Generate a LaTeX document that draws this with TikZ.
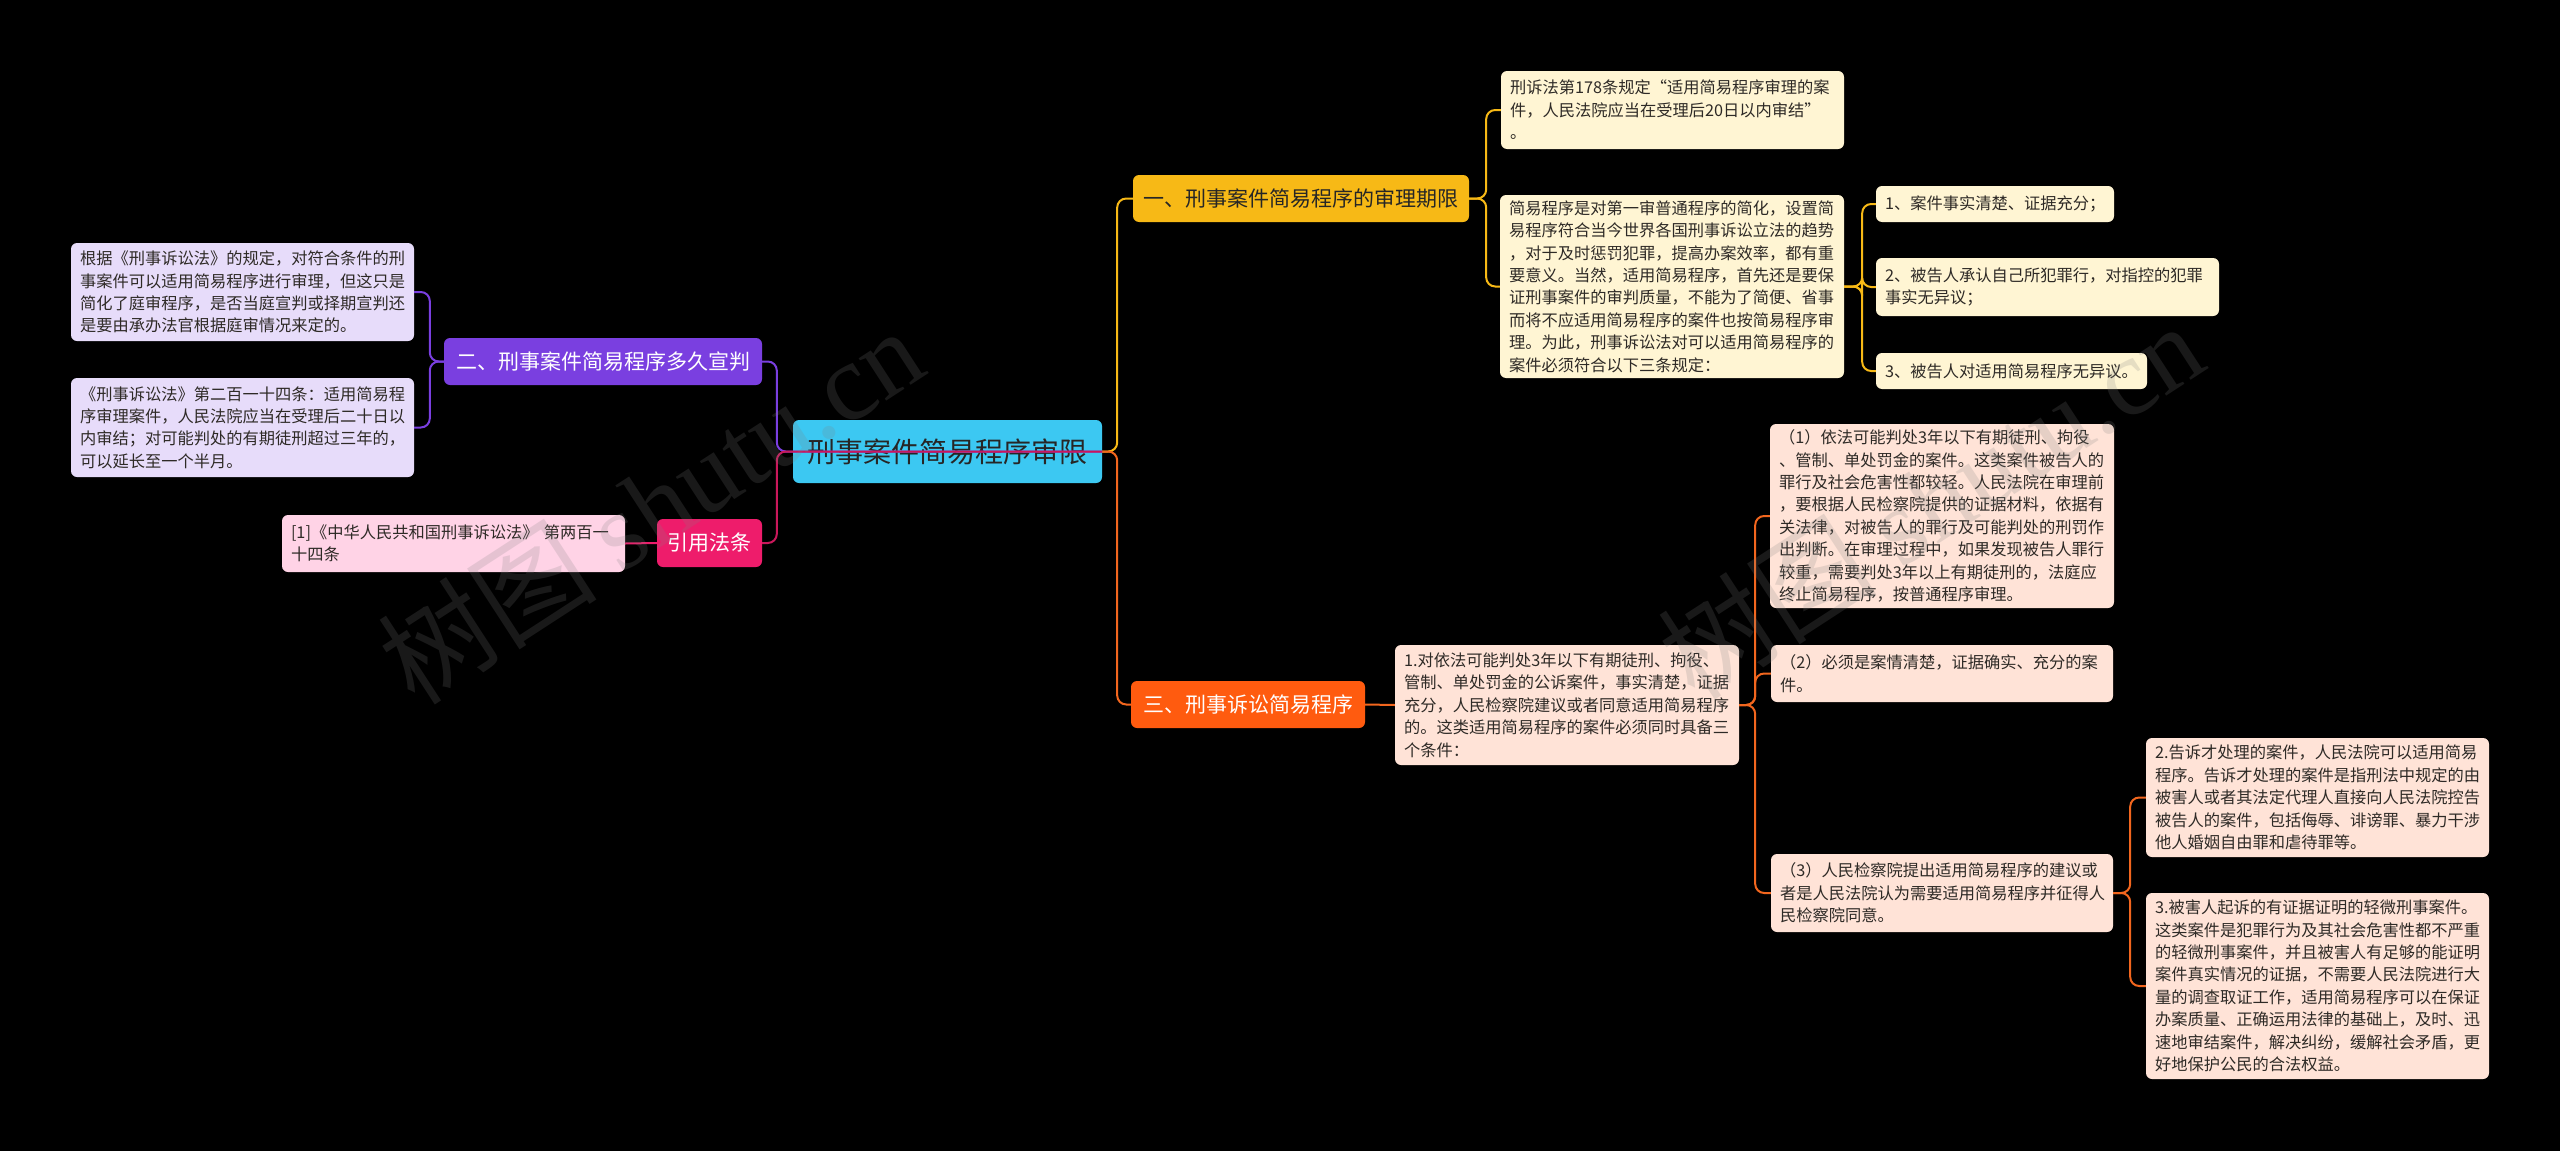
\documentclass[tikz,border=0pt]{standalone}
\usepackage{fontspec}
\setmainfont{Noto Sans CJK SC}
\newfontfamily\wmlatin{Liberation Serif}
\definecolor{bgc}{HTML}{000000}
\definecolor{rootc}{HTML}{3CC8F2}
\definecolor{yelc}{HTML}{F7B916}
\definecolor{purc}{HTML}{7A3FE0}
\definecolor{orac}{HTML}{FF5B0F}
\definecolor{pinc}{HTML}{EE1C6B}
\definecolor{yleaf}{HTML}{FFF5D3}
\definecolor{pleaf}{HTML}{E7DCFA}
\definecolor{oleaf}{HTML}{FFE3D7}
\definecolor{kleaf}{HTML}{FFD3E6}
\definecolor{ltext}{HTML}{2E2A26}
\definecolor{oline}{HTML}{F2661E}
\newcommand\leaffnt{\fontsize{16.25pt}{22.4pt}\selectfont}
\newcommand\brfnt{\fontsize{21pt}{26pt}\selectfont}
\newcommand\rootfnt{\fontsize{28pt}{34pt}\selectfont}
\tikzset{
  box/.style={rectangle, rounded corners=6pt, inner sep=0pt, align=center},
  rootbox/.style={box, fill=rootc, text=black!85, font=\rootfnt},
  brbox/.style={box, font=\brfnt},
  leafbox/.style={rectangle, rounded corners=6pt, inner xsep=9pt, inner ysep=2pt, align=left, font=\leaffnt, text=ltext},
  conn/.style={line width=2pt, rounded corners=9pt},
  wm/.style={font=\fontsize{110pt}{120pt}\selectfont, text=gray, text opacity=0.2}
}
\begin{document}
\begin{tikzpicture}[x=1pt,y=-1pt]
\useasboundingbox (0,0) rectangle (2560,1151);
\fill[bgc] (0,0) rectangle (2560,1151);

% nodes
\node[rootbox, minimum width=309pt, minimum height=63pt] (root) at (947.5,451.5) {刑事案件简易程序审限};
\node[brbox, fill=yelc, text=black!85, minimum width=336pt, minimum height=47pt] (B1) at (1301,198.5) {一、刑事案件简易程序的审理期限};
\node[brbox, fill=purc, text=white, minimum width=318pt, minimum height=47pt] (B2) at (603,361.5) {二、刑事案件简易程序多久宣判};
\node[brbox, fill=orac, text=white, minimum width=234pt, minimum height=47pt] (B3) at (1248,704.5) {三、刑事诉讼简易程序};
\node[brbox, fill=pinc, text=white, minimum width=105pt, minimum height=48pt] (B4) at (709.5,543) {引用法条};

\node[leafbox, fill=yleaf, text width=325pt, minimum height=78pt] (L1a) at (1672.5,110) {刑诉法第178条规定“适用简易程序审理的案\\件，人民法院应当在受理后20日以内审结”\\。};
\node[leafbox, fill=yleaf, text width=326pt, minimum height=183pt] (L1b) at (1672,286.5) {简易程序是对第一审普通程序的简化，设置简\\易程序符合当今世界各国刑事诉讼立法的趋势\\，对于及时惩罚犯罪，提高办案效率，都有重\\要意义。当然，适用简易程序，首先还是要保\\证刑事案件的审判质量，不能为了简便、省事\\而将不应适用简易程序的案件也按简易程序审\\理。为此，刑事诉讼法对可以适用简易程序的\\案件必须符合以下三条规定：};
\node[leafbox, fill=yleaf, text width=220pt, minimum height=36pt] (L1b1) at (1995,204) {1、案件事实清楚、证据充分；};
\node[leafbox, fill=yleaf, text width=325pt, minimum height=58pt] (L1b2) at (2047.5,287) {2、被告人承认自己所犯罪行，对指控的犯罪\\事实无异议；};
\node[leafbox, fill=yleaf, text width=253pt, minimum height=36pt] (L1b3) at (2011.5,371) {3、被告人对适用简易程序无异议。};

\node[leafbox, fill=pleaf, text width=325pt, minimum height=98pt] (L2a) at (242.5,292) {根据《刑事诉讼法》的规定，对符合条件的刑\\事案件可以适用简易程序进行审理，但这只是\\简化了庭审程序，是否当庭宣判或择期宣判还\\是要由承办法官根据庭审情况来定的。};
\node[leafbox, fill=pleaf, text width=325pt, minimum height=99pt] (L2b) at (242.5,427.5) {《刑事诉讼法》第二百一十四条：适用简易程\\序审理案件，人民法院应当在受理后二十日以\\内审结；对可能判处的有期徒刑超过三年的，\\可以延长至一个半月。};

\node[leafbox, fill=kleaf, text width=325pt, minimum height=57pt] (L4a) at (453.5,543.5) {[1]《中华人民共和国刑事诉讼法》 第两百一\\十四条};

\node[leafbox, fill=oleaf, text width=326pt, minimum height=120pt] (L3a) at (1567,705) {1.对依法可能判处3年以下有期徒刑、拘役、\\管制、单处罚金的公诉案件，事实清楚，证据\\充分，人民检察院建议或者同意适用简易程序\\的。这类适用简易程序的案件必须同时具备三\\个条件：};
\node[leafbox, fill=oleaf, text width=326pt, minimum height=184pt] (L3a1) at (1942,516) {（1）依法可能判处3年以下有期徒刑、拘役\\、管制、单处罚金的案件。这类案件被告人的\\罪行及社会危害性都较轻。人民法院在审理前\\，要根据人民检察院提供的证据材料，依据有\\关法律，对被告人的罪行及可能判处的刑罚作\\出判断。在审理过程中，如果发现被告人罪行\\较重，需要判处3年以上有期徒刑的，法庭应\\终止简易程序，按普通程序审理。};
\node[leafbox, fill=oleaf, text width=324pt, minimum height=57pt] (L3a2) at (1942,673.5) {（2）必须是案情清楚，证据确实、充分的案\\件。};
\node[leafbox, fill=oleaf, text width=324pt, minimum height=78pt] (L3a3) at (1942,893) {（3）人民检察院提出适用简易程序的建议或\\者是人民法院认为需要适用简易程序并征得人\\民检察院同意。};
\node[leafbox, fill=oleaf, text width=325pt, minimum height=119pt] (L3a3a) at (2317.5,797.5) {2.告诉才处理的案件，人民法院可以适用简易\\程序。告诉才处理的案件是指刑法中规定的由\\被害人或者其法定代理人直接向人民法院控告\\被告人的案件，包括侮辱、诽谤罪、暴力干涉\\他人婚姻自由罪和虐待罪等。};
\node[leafbox, fill=oleaf, text width=325pt, minimum height=186pt] (L3a3b) at (2317.5,986) {3.被害人起诉的有证据证明的轻微刑事案件。\\这类案件是犯罪行为及其社会危害性都不严重\\的轻微刑事案件，并且被害人有足够的能证明\\案件真实情况的证据，不需要人民法院进行大\\量的调查取证工作，适用简易程序可以在保证\\办案质量、正确运用法律的基础上，及时、迅\\速地审结案件，解决纠纷，缓解社会矛盾，更\\好地保护公民的合法权益。};

% connectors
\draw[conn, yelc] (root.east) -- ++(15,0) |- (B1.west);
\draw[conn, oline] (root.east) -- ++(15,0) |- (B3.west);
\draw[conn, yelc] (B1.east) -- ++(17,0) |- (L1a.west);
\draw[conn, yelc] (B1.east) -- ++(17,0) |- (L1b.west);
\draw[conn, yelc] (L1b.east) -- ++(18,0) |- (L1b1.west);
\draw[conn, yelc] (L1b.east) -- ++(18,0) |- (L1b2.west);
\draw[conn, yelc] (L1b.east) -- ++(18,0) |- (L1b3.west);
\draw[conn, purc] (B2.west) -- ++(-14,0) |- (L2a.east);
\draw[conn, purc] (B2.west) -- ++(-14,0) |- (L2b.east);
\draw[conn, pinc] (B4.west) -- (L4a.east);
\draw[conn, oline] (B3.east) -- (L3a.west);
\draw[conn, oline] (L3a.east) -- ++(16,0) |- (L3a1.west);
\draw[conn, oline] (L3a.east) -- ++(16,0) |- (L3a2.west);
\draw[conn, oline] (L3a.east) -- ++(16,0) |- (L3a3.west);
\draw[conn, oline] (L3a3.east) -- ++(17,0) |- (L3a3a.west);
\draw[conn, oline] (L3a3.east) -- ++(17,0) |- (L3a3b.west);
\draw[conn, purc] (root.east) -- (root.west) -- ++(-16,0) |- (B2.east);
\draw[conn, pinc!85!black] (root.east) -- (root.west) -- ++(-16,0) |- (B4.east);

% watermark
\node[wm, rotate=33] (wm1) at (650,505) {树图 {\wmlatin shutu.cn}};
\node[wm, rotate=33] (wm2) at (1930,500) {树图 {\wmlatin shutu.cn}};
\end{tikzpicture}
\end{document}
